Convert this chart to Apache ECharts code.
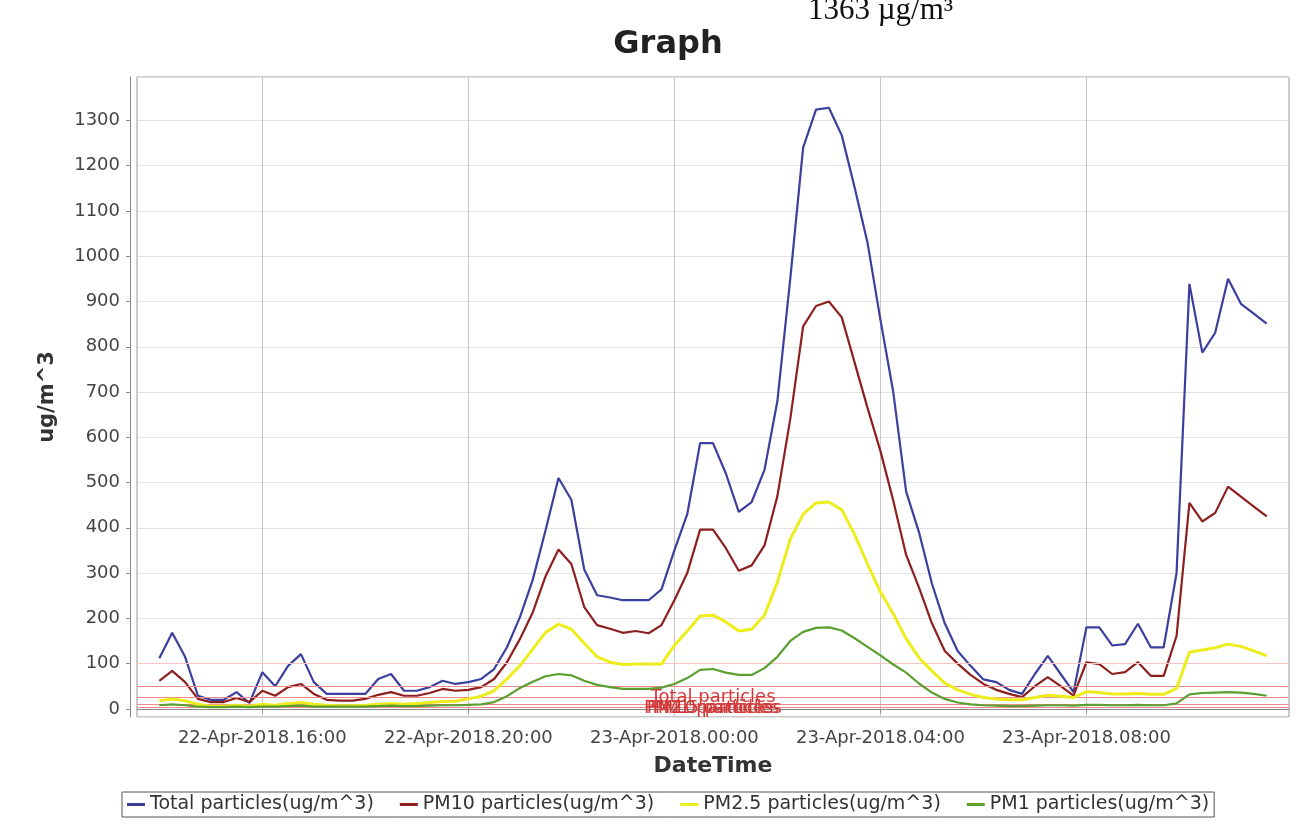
<!DOCTYPE html>
<html>
<head>
<meta charset="utf-8">
<script src="https://cdn.jsdelivr.net/npm/echarts@6/dist/echarts.min.js"></script>
<style>
html, body { margin: 0; padding: 0; background: #fff; }
#chartPM { width: 1299px; height: 832px; }
</style>
</head>
<body>
<div id="chartPM"></div>
<script>
// sample times, every 15 minutes
const times = [
  '2018-04-22 14:00', '2018-04-22 14:15', '2018-04-22 14:30', '2018-04-22 14:45',
  '2018-04-22 15:00', '2018-04-22 15:15', '2018-04-22 15:30', '2018-04-22 15:45',
  '2018-04-22 16:00', '2018-04-22 16:15', '2018-04-22 16:30', '2018-04-22 16:45',
  '2018-04-22 17:00', '2018-04-22 17:15', '2018-04-22 17:30', '2018-04-22 17:45',
  '2018-04-22 18:00', '2018-04-22 18:15', '2018-04-22 18:30', '2018-04-22 18:45',
  '2018-04-22 19:00', '2018-04-22 19:15', '2018-04-22 19:30', '2018-04-22 19:45',
  '2018-04-22 20:00', '2018-04-22 20:15', '2018-04-22 20:30', '2018-04-22 20:45',
  '2018-04-22 21:00', '2018-04-22 21:15', '2018-04-22 21:30', '2018-04-22 21:45',
  '2018-04-22 22:00', '2018-04-22 22:15', '2018-04-22 22:30', '2018-04-22 22:45',
  '2018-04-22 23:00', '2018-04-22 23:15', '2018-04-22 23:30', '2018-04-22 23:45',
  '2018-04-23 00:00', '2018-04-23 00:15', '2018-04-23 00:30', '2018-04-23 00:45',
  '2018-04-23 01:00', '2018-04-23 01:15', '2018-04-23 01:30', '2018-04-23 01:45',
  '2018-04-23 02:00', '2018-04-23 02:15', '2018-04-23 02:30', '2018-04-23 02:45',
  '2018-04-23 03:00', '2018-04-23 03:15', '2018-04-23 03:30', '2018-04-23 03:45',
  '2018-04-23 04:00', '2018-04-23 04:15', '2018-04-23 04:30', '2018-04-23 04:45',
  '2018-04-23 05:00', '2018-04-23 05:15', '2018-04-23 05:30', '2018-04-23 05:45',
  '2018-04-23 06:00', '2018-04-23 06:15', '2018-04-23 06:30', '2018-04-23 06:45',
  '2018-04-23 07:00', '2018-04-23 07:15', '2018-04-23 07:30', '2018-04-23 07:45',
  '2018-04-23 08:00', '2018-04-23 08:15', '2018-04-23 08:30', '2018-04-23 08:45',
  '2018-04-23 09:00', '2018-04-23 09:15', '2018-04-23 09:30', '2018-04-23 09:45',
  '2018-04-23 10:00', '2018-04-23 10:15', '2018-04-23 10:30', '2018-04-23 10:45',
  '2018-04-23 11:00', '2018-04-23 11:15', '2018-04-23 11:30'
]

const totalParticles = [
  112, 168, 115, 29, 20, 20, 37, 13, 81, 50, 95, 121, 59, 33, 33, 33,
  33, 66, 77, 40, 40, 48, 62, 55, 59, 66, 88, 136, 202, 285, 395, 510,
  462, 308, 251, 246, 240, 240, 240, 264, 350, 430, 587, 587, 520, 435,
  457, 528, 680, 950, 1240, 1324, 1328, 1267, 1152, 1030, 860, 700, 480, 390,
  277, 189, 128, 95, 65, 59, 42, 33, 77, 117, 77, 37, 180, 180, 140, 143,
  188, 136, 136, 300, 939, 787, 831, 950, 895, 873, 851
]

const pm10 = [
  62, 84, 59, 22, 15, 15, 24, 15, 40, 29, 48, 55, 33, 20, 18, 18,
  22, 31, 37, 29, 29, 35, 44, 40, 42, 48, 66, 103, 154, 213, 293, 352,
  320, 225, 185, 177, 168, 172, 167, 185, 240, 300, 396, 396, 355, 305,
  317, 361, 470, 640, 845, 890, 900, 865, 765, 665, 570, 460, 340, 268,
  189, 128, 100, 75, 55, 42, 33, 26, 50, 70, 50, 29, 103, 99, 77, 81,
  103, 73, 73, 161, 455, 414, 433, 491, 469, 447, 425
]

const pm25 = [
  18, 22, 18, 10, 6, 6, 8, 6, 10, 8, 12, 14, 10, 8, 7, 7,
  8, 10, 12, 10, 12, 14, 16, 17, 22, 28, 40, 66, 95, 132, 169, 187,
  176, 145, 115, 103, 98, 99, 99, 99, 140, 172, 205, 207, 192, 172,
  176, 207, 280, 375, 430, 455, 457, 440, 385, 320, 258, 210, 155, 113,
  84, 57, 42, 32, 25, 22, 20, 20, 25, 30, 28, 25, 38, 36, 33, 33,
  34, 32, 32, 45, 125, 130, 135, 143, 138, 128, 117
]

const pm1 = [
  8, 10, 8, 5, 4, 4, 5, 4, 5, 5, 6, 7, 5, 5, 5, 5,
  5, 6, 7, 6, 6, 7, 8, 8, 9, 10, 15, 28, 46, 60, 72, 77,
  74, 62, 53, 48, 44, 44, 44, 47, 55, 68, 86, 88, 80, 75,
  75, 90, 115, 150, 170, 179, 180, 173, 156, 137, 118, 98, 80, 56,
  36, 22, 14, 10, 8, 7, 6, 6, 7, 8, 8, 7, 9, 9, 8, 8,
  9, 8, 8, 12, 32, 35, 36, 37, 36, 33, 29
]

// limit lines drawn near the bottom of the plot
const limitValues = [100, 50, 25, 25, 25, 10, 3]
const limitLabels = ['', 'Total particles', 'PM10 particles', 'PM2.5 particles', 'PM1 particles', '', '']

const seriesNames = [
  'Total particles(ug/m^3)',
  'PM10 particles(ug/m^3)',
  'PM2.5 particles(ug/m^3)',
  'PM1 particles(ug/m^3)'
]
const seriesColors = ['#3b3f9e', '#8e1f1f', '#eded1c', '#5c9f31']
const seriesWidths = [2.2, 2.2, 3, 2.2]

const months = ['Jan', 'Feb', 'Mar', 'Apr', 'May', 'Jun', 'Jul', 'Aug', 'Sep', 'Oct', 'Nov', 'Dec']

function pad(n) {
  return n < 10 ? '0' + n : '' + n
}

function formatTime(v) {
  let d = new Date(v)
  return pad(d.getDate()) + '-' + months[d.getMonth()] + '-' + d.getFullYear() + '.' + pad(d.getHours()) + ':' + pad(d.getMinutes())
}

function genSeries(values, idx) {
  let s = {
    name: seriesNames[idx],
    type: 'line',
    data: times.map((t, i) => [t, values[i]]),
    symbol: 'none',
    lineStyle: { color: seriesColors[idx], width: seriesWidths[idx] },
    itemStyle: { color: seriesColors[idx] },
    z: 3 + idx
  }
  if (idx === 0) {
    s.markLine = {
      silent: true,
      symbol: 'none',
      animation: false,
      data: limitValues.map((v, i) => ({
        yAxis: v,
        lineStyle: { color: v === 100 ? '#f7c4c4' : '#f08a8a', width: 1, type: 'solid' },
        label: {
          show: limitLabels[i] !== '',
          formatter: limitLabels[i],
          position: 'insideMiddleBottom',
          distance: 2,
          color: '#d23a3a',
          fontFamily: 'DejaVu Sans',
          fontSize: 18
        }
      }))
    }
  }
  return s
}

const chartDom = document.getElementById('chartPM')
const myChart = echarts.init(chartDom)

const option = {
  animation: false,
  backgroundColor: '#ffffff',
  title: [{
    text: 'Graph',
    left: 663,
    top: 24,
    textAlign: 'center',
    textStyle: { fontFamily: 'DejaVu Sans', fontWeight: 'bold', fontSize: 32, color: '#222' }
  }, {
    text: '1363 µg/m³',
    left: 808,
    top: -5,
    padding: 0,
    textStyle: { fontFamily: 'Liberation Serif', fontWeight: 'normal', fontSize: 31, color: '#111' }
  }],
  legend: {
    left: 122,
    top: 792,
    data: seriesNames,
    icon: 'rect',
    itemWidth: 18,
    itemHeight: 3,
    itemGap: 26,
    padding: [3, 5],
    borderColor: '#555',
    borderWidth: 1,
    textStyle: { fontFamily: 'DejaVu Sans', fontSize: 19, color: '#333' }
  },
  grid: {
    left: 137,
    right: 10,
    top: 77,
    bottom: 115,
    show: true,
    borderColor: '#999',
    borderWidth: 1,
    containLabel: false
  },
  xAxis: {
    type: 'time',
    min: '2018-04-22 13:34',
    max: '2018-04-23 11:56',
    minInterval: 4 * 3600 * 1000,
    maxInterval: 4 * 3600 * 1000,
    name: 'DateTime',
    nameLocation: 'middle',
    nameGap: 38,
    nameTextStyle: { fontFamily: 'DejaVu Sans', fontWeight: 'bold', fontSize: 22, color: '#333' },
    axisLine: { show: true, lineStyle: { color: '#888' } },
    axisTick: { show: true, length: 4, lineStyle: { color: '#888' } },
    axisLabel: {
      formatter: function (v) { return formatTime(v) },
      showMinLabel: false,
      showMaxLabel: false,
      margin: 12,
      fontFamily: 'DejaVu Sans',
      fontSize: 18,
      color: '#444'
    },
    splitLine: { show: true, lineStyle: { color: '#c8c8c8', width: 1 } }
  },
  yAxis: {
    type: 'value',
    min: -18,
    max: 1396,
    splitNumber: 14,
    offset: 7,
    name: 'ug/m^3',
    nameLocation: 'middle',
    nameGap: 72,
    nameRotate: 90,
    nameTextStyle: { fontFamily: 'DejaVu Sans', fontWeight: 'bold', fontSize: 21, color: '#333' },
    axisLine: { show: true, lineStyle: { color: '#888' } },
    axisTick: { show: true, length: 4, lineStyle: { color: '#888' } },
    axisLabel: {
      formatter: function (v) { return String(v) },
      showMinLabel: false,
      showMaxLabel: false,
      margin: 10,
      fontFamily: 'DejaVu Sans',
      fontSize: 18,
      color: '#444'
    },
    splitLine: { show: true, lineStyle: { color: '#e2e2e2', width: 1 } }
  },
  series: [
    genSeries(totalParticles, 0),
    genSeries(pm10, 1),
    genSeries(pm25, 2),
    genSeries(pm1, 3)
  ]
}

myChart.setOption(option)
</script>
</body>
</html>
